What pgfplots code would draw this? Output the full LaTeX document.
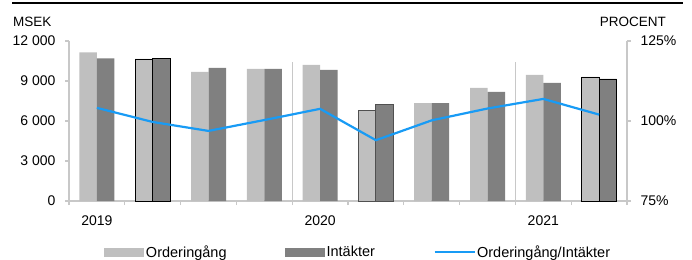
\documentclass[border=0pt]{standalone}
\usepackage{fontspec}
\setmainfont{Liberation Sans}
\usepackage{pgfplots}
\pgfplotsset{compat=1.18}
\definecolor{lgray}{RGB}{191,191,191}
\definecolor{dgray}{RGB}{128,128,128}
\definecolor{axgray}{RGB}{200,200,200}
\definecolor{edgegray}{RGB}{80,80,80}
\definecolor{lblue}{RGB}{24,155,245}
\begin{document}
\begin{tikzpicture}[x=1bp,y=1bp]
\path[use as bounding box] (0,0) rectangle (692,259);
\draw[black, line width=1.3bp] (12,256) -- (683,256);
\node[anchor=base west, inner sep=0pt, font=\fontsize{13.5bp}{16bp}\selectfont] at (13,233) {MSEK};
\node[anchor=base east, inner sep=0pt, font=\fontsize{13.5bp}{16bp}\selectfont] at (666,233) {PROCENT};
\begin{axis}[
  at={(69bp,58bp)}, anchor=south west,
  scale only axis, width=558bp, height=160bp,
  xmin=-0.5, xmax=9.5, ymin=0, ymax=12000,
  scaled y ticks=false,
  axis x line*=bottom, axis y line*=left,
  axis line style={axgray, line width=1.2bp, -},
  tick style={axgray, line width=1.1bp},
  tick align=outside, major tick length=4bp,
  xtick={-0.5,0.5,...,9.5}, xticklabels={},
  extra x ticks={0,4,8}, extra x tick labels={2019,2020,2021},
  extra x tick style={major tick length=0pt, tick label style={yshift=-11bp}},
  ytick={0,3000,6000,9000,12000},
  yticklabels={0,3 000,6 000,9 000,12 000},
  tick label style={font=\fontsize{14bp}{16bp}\selectfont},
  yticklabel style={xshift=-6bp},
  clip=false,
  legend columns=3,
  legend style={at={(0.518,-0.319)}, anchor=center, draw=none, fill=none,
    inner sep=0pt, font=\fontsize{14.5bp}{16bp}\selectfont,
    nodes={inner sep=1.5bp}, cells={anchor=west},
    /tikz/every even column/.append style={column sep=57bp}},
]
\addplot[ybar, bar width=17.5bp, bar shift=-8.75bp, fill=lgray, draw=none,
  legend image code/.code={\fill[lgray] (0bp,-4.5bp) rectangle (40bp,4.5bp);}]
  coordinates {(0,11150) (2,9675) (3,9900) (4,10200) (6,7350) (7,8475) (8,9450)};
\addlegendentry{Orderingång}
\addplot[ybar, bar width=17.5bp, bar shift=8.75bp, fill=dgray, draw=none,
  legend image code/.code={\fill[dgray] (0bp,-4.5bp) rectangle (40bp,4.5bp);}]
  coordinates {(0,10700) (2,9975) (3,9900) (4,9825) (6,7350) (7,8175) (8,8850)};
\addlegendentry{Intäkter}
\addplot[forget plot, ybar, bar width=17.5bp, bar shift=-8.75bp, fill=lgray, draw=black, line width=0.9bp]
  coordinates {(1,10650) (9,9300)};
\addplot[forget plot, ybar, bar width=17.5bp, bar shift=8.75bp, fill=dgray, draw=black, line width=0.9bp]
  coordinates {(1,10700) (9,9150)};
\addplot[forget plot, ybar, bar width=17.5bp, bar shift=-8.75bp, fill=lgray, draw=edgegray, line width=0.9bp]
  coordinates {(5,6825)};
\addplot[forget plot, ybar, bar width=17.5bp, bar shift=8.75bp, fill=dgray, draw=edgegray, line width=0.9bp]
  coordinates {(5,7275)};
\addplot[forget plot, axgray, line width=1.1bp] coordinates {(3.5,10400) (3.5,-300)};
\addplot[forget plot, axgray, line width=1.1bp] coordinates {(7.5,10400) (7.5,-300)};
\addlegendimage{lblue, line width=2.2bp, legend image code/.code={\draw[lblue, line width=2.2bp] (0bp,0bp) -- (40bp,0bp);}}
\addlegendentry{Orderingång/Intäkter}
\end{axis}
\begin{axis}[
  at={(69bp,58bp)}, anchor=south west,
  scale only axis, width=558bp, height=160bp,
  xmin=-0.5, xmax=9.5, ymin=75, ymax=125,
  axis x line=none, axis y line*=right,
  axis line style={axgray, line width=1.2bp, -},
  tick style={axgray, line width=1.1bp},
  tick align=outside, major tick length=4bp,
  ytick={75,100,125}, yticklabels={75\%,100\%,125\%},
  tick label style={font=\fontsize{14bp}{16bp}\selectfont},
  yticklabel style={xshift=6bp},
  clip=false,
]
\addplot[lblue, line width=2.2bp] coordinates {(0,104.1) (1,99.7) (2,96.9) (3,100.3) (4,103.8) (5,94.0) (6,100.2) (7,103.9) (8,106.9) (9,102.0)};
\end{axis}
\end{tikzpicture}
\end{document}
